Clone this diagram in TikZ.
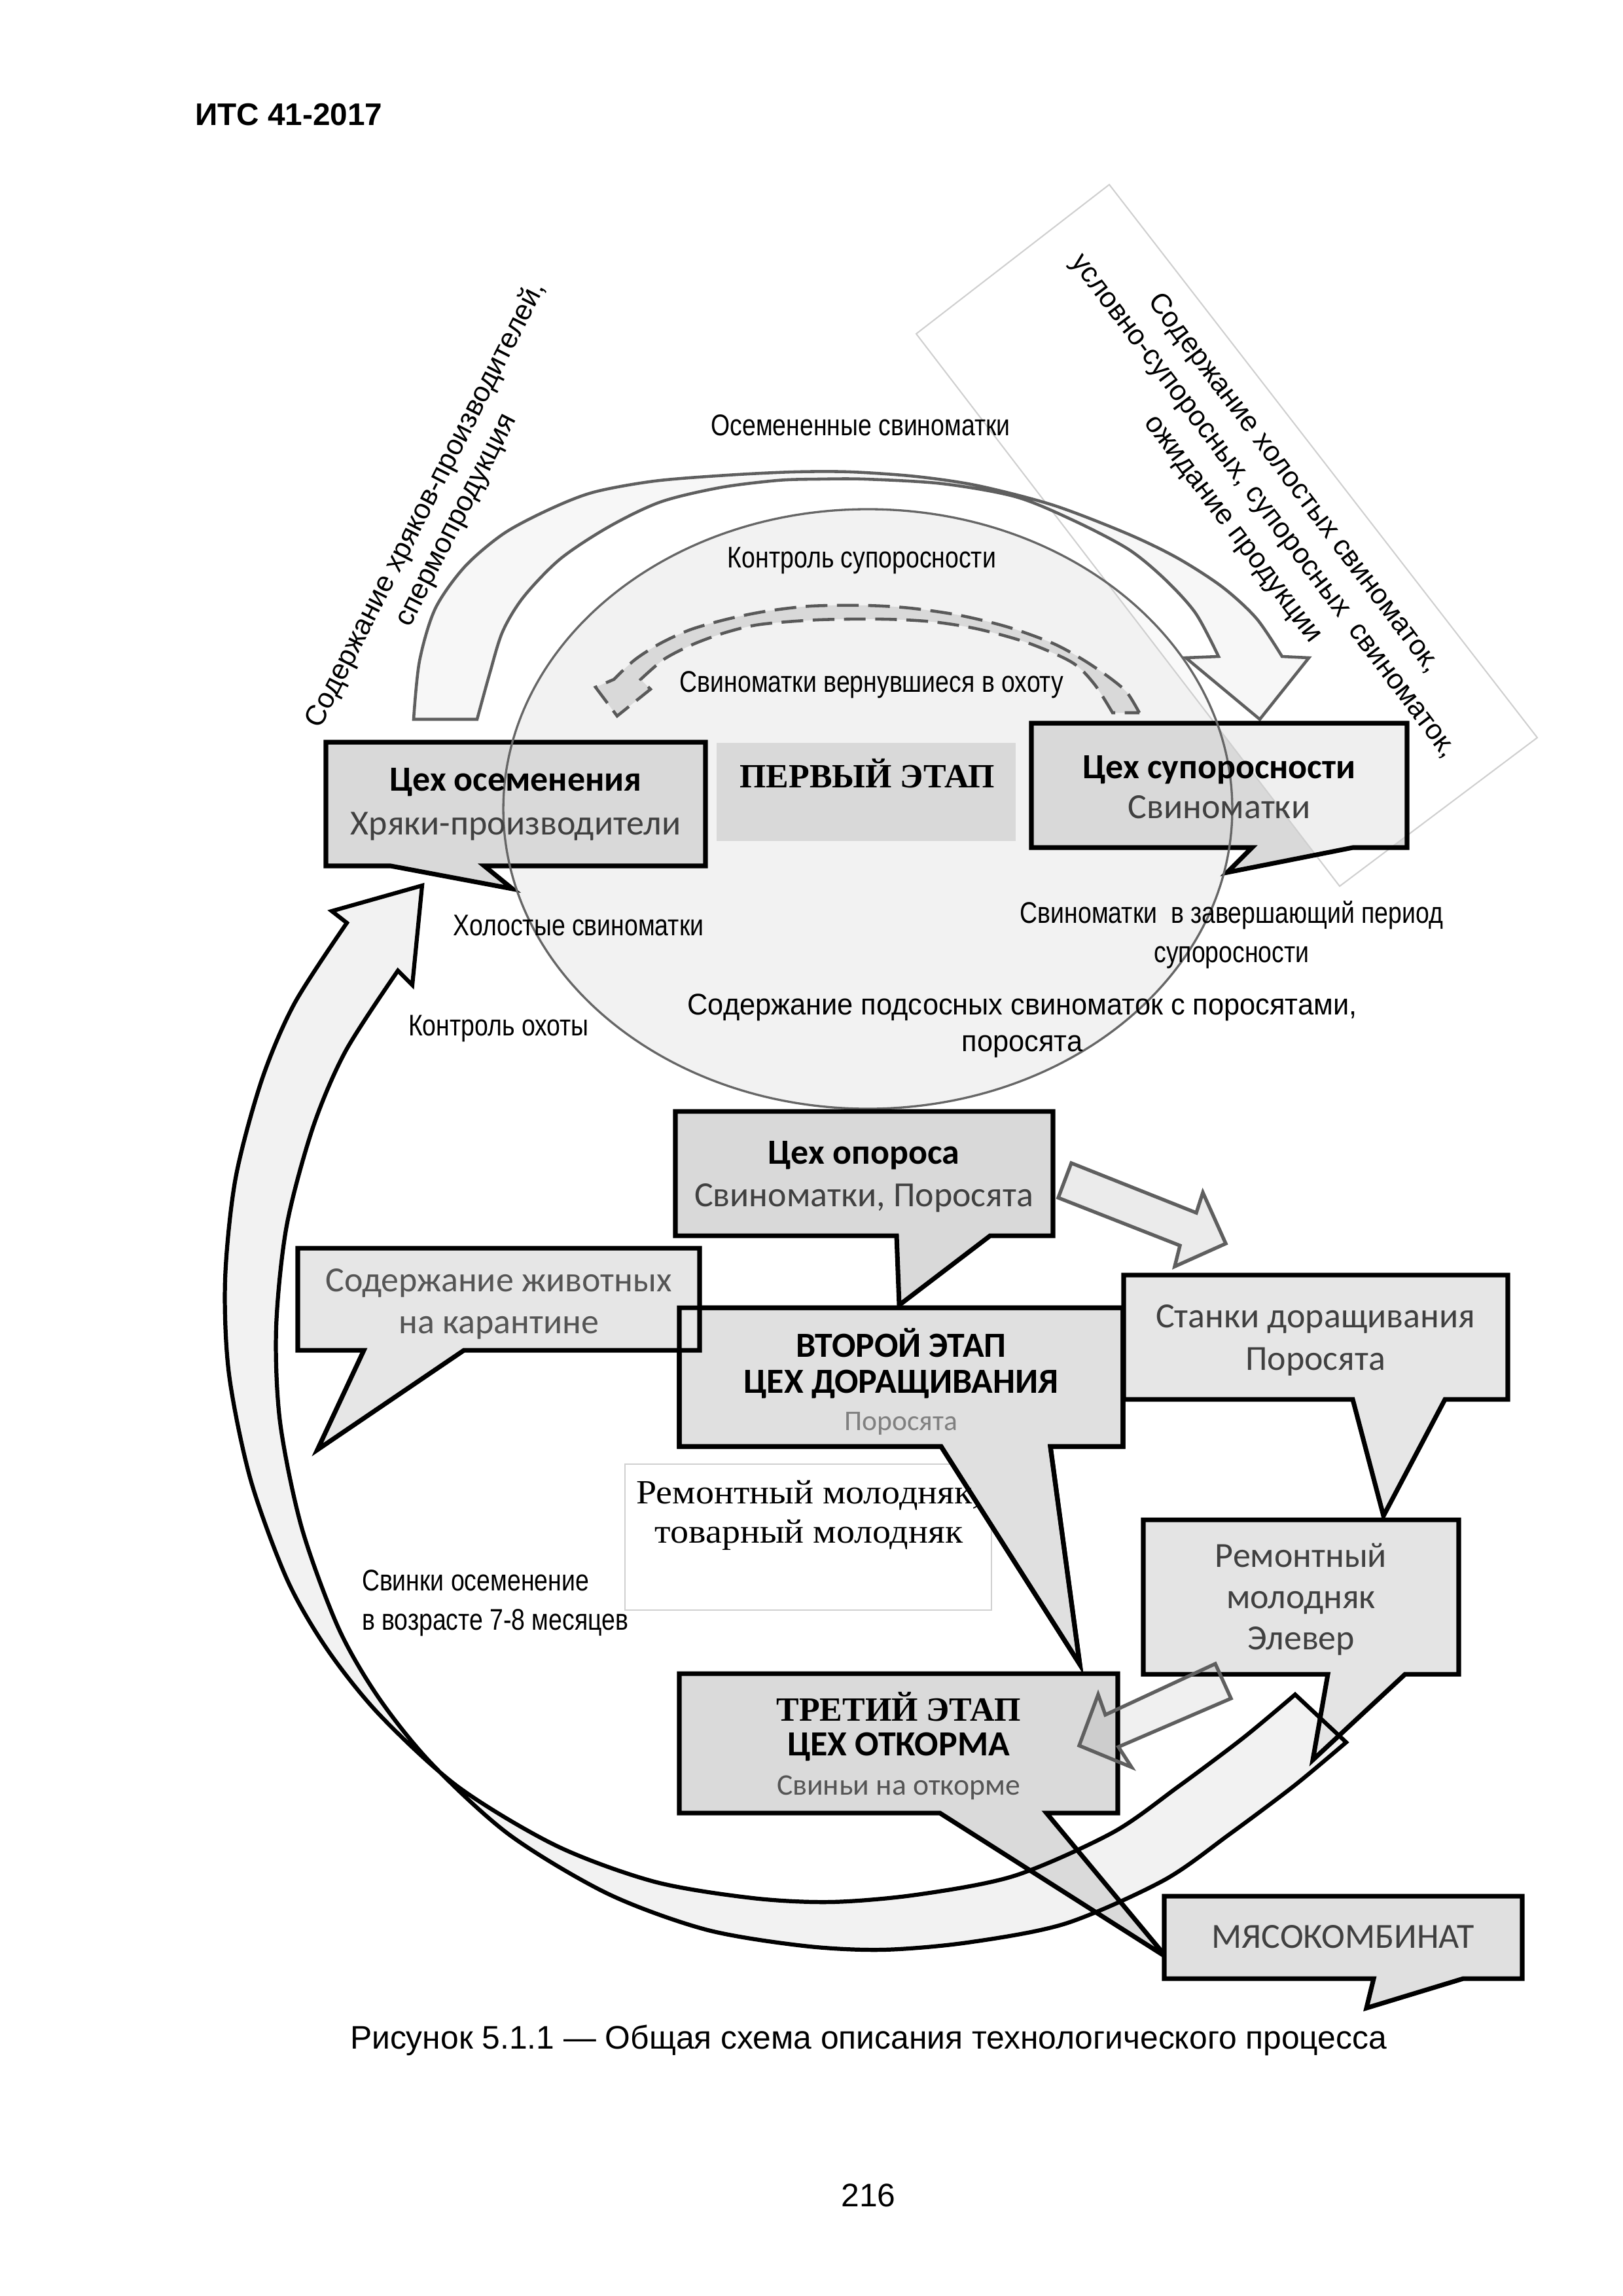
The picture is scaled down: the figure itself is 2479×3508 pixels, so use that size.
\documentclass[tikz,border=0pt]{standalone}
\usepackage{fontspec}
\setmainfont{Liberation Sans}
\newfontfamily\calfont{Carlito}
\newfontfamily\serfont{Liberation Serif}
\newfontfamily\serwfont[FakeStretch=1.08]{Liberation Serif}
\newfontfamily\narfont[FakeStretch=0.82]{Liberation Sans}
\newfontfamily\narwfont[FakeStretch=0.95]{Liberation Sans}
\definecolor{fA}{HTML}{D9D9D9}
\definecolor{fB}{HTML}{E6E6E6}
\definecolor{fC}{HTML}{E0E0E0}
\definecolor{fD}{HTML}{DADADA}
\definecolor{fE}{HTML}{E4E4E4}
\definecolor{ellfill}{HTML}{F2F2F2}
\definecolor{bandfill}{HTML}{F2F2F2}
\definecolor{topfill}{HTML}{F7F7F7}
\definecolor{dashfill}{HTML}{D9D9D9}
\definecolor{dashcol}{HTML}{595959}
\definecolor{linegray}{HTML}{5F5F5F}
\definecolor{ellline}{HTML}{666666}
\definecolor{diagline}{HTML}{CFCFCF}
\definecolor{tbline}{HTML}{D0D0D0}
\definecolor{arrfill}{HTML}{EBEBEB}
\definecolor{txtgray}{HTML}{404040}
\definecolor{txtmid}{HTML}{555555}
\definecolor{txtlight}{HTML}{808080}
\newcommand{\mycallout}[8]{\path[#1] (#2,#3) -- (#4,#3) -- (#4,#5) -- (#7,#5) -- (#8) -- (#6,#5) -- (#2,#5) -- cycle;}
\newcommand{\mybandpath}{(645,1353) -- (507,1392) -- plot[smooth] coordinates {(530,1410) (450,1533) (400,1650) (360,1800) (344,1955) (350,2100) (383,2261) (439,2414) (500,2520) (580,2620) (700,2730) (850,2820) (1000,2875) (1150,2900) (1270,2906) (1400,2895) (1550,2866) (1700,2800) (1800,2730) (1900,2655) (1979,2589)} -- plot[smooth] coordinates {(2057,2662) (1978,2728) (1878,2803) (1778,2873) (1628,2939) (1478,2968) (1348,2979) (1228,2973) (1078,2948) (928,2893) (778,2803) (658,2693) (578,2593) (517,2487) (461,2334) (428,2173) (422,2028) (438,1873) (478,1723) (528,1606) (608,1483)} -- (630,1505) -- cycle}
\begin{document}
\begin{tikzpicture}[x=0.0847115mm, y=-0.0847115mm,
  every node/.style={inner sep=0pt, outer sep=0pt},
  boxline/.style={draw=black, line width=1.7pt, line join=miter},
  bandline/.style={draw=black, line width=1.5pt, line join=miter},
  grayarrow/.style={draw=linegray, line width=1.3pt, line join=miter},
  boxtxt/.style={font=\calfont\fontsize{13}{15.8}\selectfont, align=center, text=txtgray},
  lbl/.style={font=\narfont\fontsize{11}{14.4}\selectfont, align=center, text=black},
  rottxt/.style={font=\fontsize{10.5}{12.5}\selectfont, align=center, text=black}]
\fill[white] (0,0) rectangle (2479,3508);
\useasboundingbox (0,0) rectangle (2479,3508);

% ---------- first stage ----------
\fill[ellfill] (1326,1236) ellipse [x radius=47.18mm, y radius=38.80mm];
\fill[fA] (1095,1135) rectangle (1552,1285);

\mycallout{fill=fA, boxline}{498}{1134}{1078}{1323}{597}{740}{783,1358}
\mycallout{fill=fA}{1576}{1105}{2150}{1295}{1913}{2067}{1875,1333}

% diagonal frame (translucent)
\path[fill=white, fill opacity=0.6, draw=diagline, line width=0.5pt] (1695,282) -- (2349,1127) -- (2047,1354) -- (1400,510) -- cycle;

% top curved arrow
\path[fill=topfill, draw=linegray, line width=1.1pt, line join=miter]
  plot[smooth] coordinates {(632,1099) (641,1010) (665,930) (710,866) (770,815) (840,778) (907,752) (1000,735) (1111,726) (1213,721) (1300,721) (1400,728) (1494,742) (1610,772) (1724,816) (1800,853) (1868,897) (1920,945) (1959,1003)}
  -- (2000,1005) -- (1925,1099) -- (1812,1005)
  -- plot[smooth] coordinates {(1862,1003) (1827,937) (1780,885) (1724,839) (1640,795) (1552,759) (1440,739) (1322,732) (1250,732) (1188,734) (1100,745) (1009,767) (930,805) (856,854) (800,912) (768,965) (748,1030) (729,1099)}
  -- cycle;

% dashed curved arrow
\path[fill=dashfill, draw=dashcol, line width=1.1pt, dash pattern=on 8pt off 3.5pt]
  plot[smooth] coordinates {(1741,1089) (1722,1058) (1695,1035) (1655,1008) (1609,983) (1540,958) (1466,940) (1390,929) (1322,925) (1239,926) (1170,934) (1111,946) (1055,962) (1009,983) (970,1008) (938,1038)}
  -- (910,1050) -- (943,1094) -- (994,1053)
  -- plot[smooth] coordinates {(979,1038) (1015,1007) (1060,984) (1110,966) (1162,954) (1250,947) (1350,946) (1425,950) (1494,961) (1570,982) (1638,1012) (1672,1045) (1700,1089)}
  -- cycle;

\mycallout{boxline}{1576}{1105}{2150}{1295}{1913}{2067}{1875,1333}

\draw[ellline, line width=0.8pt] (1326,1236) ellipse [x radius=47.18mm, y radius=38.80mm];

% ---------- lower part ----------
\fill[bandfill] \mybandpath;
\path[fill=white, draw=tbline, line width=0.6pt] (955,2237) rectangle (1515,2460);

\mycallout{fill=fA, boxline}{1032}{1698}{1609}{1888}{1370}{1513}{1374,1994}
\mycallout{fill=fC, boxline}{1038}{1998}{1716}{2210}{1438}{1605}{1650,2543}
\mycallout{fill=fB, boxline}{455}{1907}{1069}{2063}{556}{709}{485,2215}
\mycallout{boxline}{1038}{1998}{1716}{2210}{1438}{1605}{1650,2543}
\mycallout{fill=fB, boxline}{1717}{1948}{2304}{2138}{2067}{2208}{2114,2316}
\mycallout{fill=fE, boxline}{1747}{2322}{2229}{2558}{2029}{2147}{2006,2689}
\mycallout{fill=fD, boxline}{1038}{2557}{1708}{2770}{1436}{1599}{1782,2990}
\mycallout{fill=fC, boxline}{1779}{2897}{2326}{3023}{2099}{2236}{2088,3068}

\draw[bandline] \mybandpath;

\path[fill=arrfill, grayarrow] (1637,1777) -- (1828,1853) -- (1838,1822) -- (1873,1900) -- (1795,1935) -- (1803,1903) -- (1617,1830) -- cycle;
\path[fill=black, fill opacity=0.06, grayarrow] (1857,2542) -- (1689,2620) -- (1678,2589) -- (1649,2667) -- (1729,2700) -- (1709,2669) -- (1881,2595) -- cycle;

% ---------- texts ----------
\node[anchor=west, font=\bfseries\fontsize{11.5}{14}\selectfont] (hdr) at (298,175) {ИТС 41-2017};

\node[rottxt, rotate=63] (rotL) at (674,783) {Содержание хряков-производителей,\\спермопродукция};
\node[rottxt, rotate=-53, font=\fontsize{10.5}{14}\selectfont] (rotR) at (1930,774) {Содержание холостых свиноматок,\\условно-супоросных, супоросных\ \ свиноматок,\\ожидание продукции};

\node[lbl] (l1) at (1315,650) {Осемененные свиноматки};
\node[lbl] (l2) at (1317,857) {Контроль супоросности};
\node[lbl] (l3) at (1332,1046) {Свиноматки вернувшиеся в охоту};
\node[lbl] (l4) at (884,1414) {Холостые свиноматки};
\node[lbl] (l5) at (762,1572) {Контроль охоты};
\node[lbl] (l6) at (1882,1428) {Свиноматки\ \ в завершающий период\\супоросности};
\node[lbl, font=\narwfont\fontsize{11}{13.4}\selectfont] (l7) at (1562,1567) {Содержание подсосных свиноматок с поросятами,\\поросята};
\node[lbl, align=left, anchor=west] (l8) at (553,2449) {Свинки осеменение\\в возрасте 7-8 месяцев};

\node[font=\serfont\bfseries\fontsize{12.5}{15}\selectfont] (st1) at (1325,1182) {ПЕРВЫЙ ЭТАП};

\node[boxtxt, font=\calfont\fontsize{13}{16}\selectfont] (b1) at (788,1229) {{\bfseries\color{black}Цех осеменения}\\Хряки-производители};
\node[boxtxt, font=\calfont\fontsize{13}{14.7}\selectfont] (b2) at (1863,1203) {{\bfseries\color{black}Цех супоросности}\\Свиноматки};
\node[boxtxt] (b3) at (1320,1798) {{\bfseries\color{black}Цех опороса}\\Свиноматки, Поросята};
\node[boxtxt, font=\calfont\fontsize{13}{15.4}\selectfont, text=txtmid] (b4) at (762,1992) {Содержание животных\\на карантине};
\node[boxtxt, text=black] (b5a) at (1377,2052) {\bfseries ВТОРОЙ ЭТАП};
\node[boxtxt, text=black] (b5b) at (1377,2115) {\bfseries ЦЕХ ДОРАЩИВАНИЯ};
\node[boxtxt, font=\calfont\fontsize{10.5}{12}\selectfont, text=txtlight] (b5c) at (1377,2175) {Поросята};
\node[boxtxt] (b6) at (2010,2048) {Станки доращивания\\Поросята};
\node[boxtxt, font=\calfont\fontsize{13}{15.2}\selectfont] (b7) at (1988,2444) {Ремонтный\\молодняк\\Элевер};
\node[font=\serfont\bfseries\fontsize{12.5}{15}\selectfont] (b8a) at (1373,2608) {ТРЕТИЙ ЭТАП};
\node[boxtxt, text=black] (b8b) at (1373,2669) {\bfseries ЦЕХ ОТКОРМА};
\node[boxtxt, font=\calfont\fontsize{11}{13}\selectfont, text=txtmid] (b8c) at (1373,2731) {Свиньи на откорме};
\node[boxtxt] (b9) at (2052,2959) {МЯСОКОМБИНАТ};

\node[font=\serwfont\fontsize{12.5}{14.4}\selectfont, align=center] (tb) at (1236,2315) {Ремонтный молодняк,\\товарный молодняк};

\node[font=\fontsize{12}{14}\selectfont] (cap) at (1327,3117) {Рисунок 5.1.1 — Общая схема описания технологического процесса};
\node[font=\fontsize{12}{14}\selectfont] (pg) at (1327,3354) {216};
\end{tikzpicture}
\end{document}
